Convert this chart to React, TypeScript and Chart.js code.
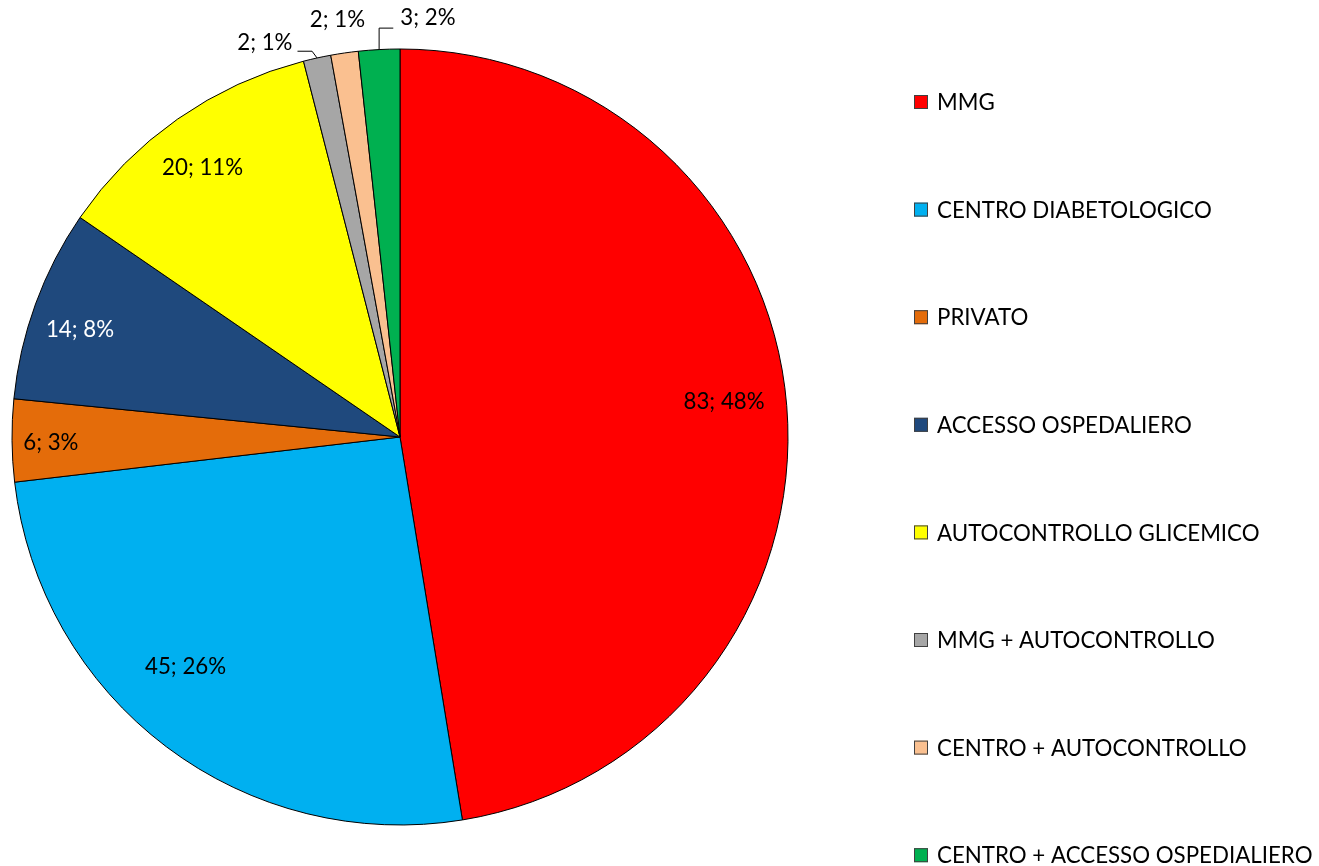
import React, { useEffect, useRef } from "react";
import { Chart, registerables } from "chart.js";

Chart.register(...registerables);

const categories = [
  "MMG",
  "CENTRO DIABETOLOGICO",
  "PRIVATO",
  "ACCESSO OSPEDALIERO",
  "AUTOCONTROLLO GLICEMICO",
  "MMG + AUTOCONTROLLO",
  "CENTRO + AUTOCONTROLLO",
  "CENTRO + ACCESSO OSPEDIALIERO",
];
const values = [83, 45, 6, 14, 20, 2, 2, 3];
const percentLabels = ["48%", "26%", "3%", "8%", "11%", "1%", "1%", "2%"];
const colors = ["#FF0000", "#00B0F0", "#E46C0A", "#1F497D", "#FFFF00", "#A6A6A6", "#FAC090", "#00B050"];
const labelColors = ["#000000", "#000000", "#000000", "#FFFFFF", "#000000", "#000000", "#000000", "#000000"];

// label placement: radius factor and angular shift (degrees) relative to slice mid-angle
const labelPlacement = [
  { r: 0.84, da: -1.5 },
  { r: 0.81, da: 6 },
  { r: 0.9, da: -0.5 },
  { r: 0.87, da: -1.5 },
  { r: 0.86, da: -1.3 },
  { r: 1.073, da: -6.6, leader: "left" },
  { r: 1.087, da: -0.3 },
  { r: 1.082, da: 6.9, leader: "right" },
];

const FONT = "Lato, 'Open Sans', sans-serif";
const FONT_SIZE = 22.3;

const labelsPlugin = {
  id: "sliceLabels",
  afterDatasetsDraw(chart: any) {
    const ctx = chart.ctx;
    const meta = chart.getDatasetMeta(0);
    ctx.save();
    ctx.font = `${FONT_SIZE}px ${FONT}`;
    ctx.textAlign = "center";
    ctx.textBaseline = "middle";
    meta.data.forEach((arc: any, i: number) => {
      const { x, y, startAngle, endAngle, outerRadius } = arc.getProps(
        ["x", "y", "startAngle", "endAngle", "outerRadius"],
        true
      );
      const mid = (startAngle + endAngle) / 2;
      const p = labelPlacement[i];
      const a = mid + (p.da * Math.PI) / 180;
      const lx = x + Math.cos(a) * outerRadius * p.r;
      const ly = y + Math.sin(a) * outerRadius * p.r;
      const text = `${values[i]}; ${percentLabels[i]}`;
      ctx.fillStyle = labelColors[i];
      ctx.fillText(text, lx, ly);
      if ((p as any).leader) {
        const ex = x + Math.cos(mid) * outerRadius;
        const ey = y + Math.sin(mid) * outerRadius;
        const w = ctx.measureText(text).width;
        ctx.strokeStyle = "#000";
        ctx.lineWidth = 1;
        ctx.beginPath();
        if ((p as any).leader === "left") {
          const hy = ly + 8;
          ctx.moveTo(ex, ey);
          ctx.lineTo(ex - 5, hy);
          ctx.lineTo(lx + w / 2 + 5, hy);
        } else {
          const hy = ly + 10;
          ctx.moveTo(ex, ey);
          ctx.lineTo(ex, hy);
          ctx.lineTo(lx - w / 2 - 7, hy);
        }
        ctx.stroke();
      }
    });
    ctx.restore();
  },
};

const legendPlugin = {
  id: "customLegend",
  afterDraw(chart: any) {
    const ctx = chart.ctx;
    ctx.save();
    ctx.font = `${FONT_SIZE}px ${FONT}`;
    ctx.textAlign = "left";
    ctx.textBaseline = "middle";
    const x0 = 914;
    const y0 = 102;
    const step = 107.6;
    categories.forEach((c, i) => {
      const cy = y0 + i * step;
      ctx.fillStyle = colors[i];
      ctx.fillRect(x0, cy - 7, 14, 14);
      ctx.strokeStyle = "#404040";
      ctx.lineWidth = 1;
      ctx.strokeRect(x0 + 0.5, cy - 6.5, 13, 13);
      ctx.fillStyle = "#000";
      ctx.fillText(c, x0 + 23, cy + 1);
    });
    ctx.restore();
  },
};

export default function App() {
  const canvasRef = useRef<HTMLCanvasElement | null>(null);
  useEffect(() => {
    if (!canvasRef.current) return;
    const chart = new Chart(canvasRef.current, {
      type: "pie",
      data: {
        labels: categories,
        datasets: [
          {
            data: values,
            backgroundColor: colors,
            borderColor: "#000000",
            borderWidth: 1,
            hoverOffset: 0,
            offset: 0,
          },
        ],
      },
      options: {
        animation: false,
        responsive: false,
        maintainAspectRatio: false,
        layout: { padding: { left: 11.5, top: 48.5, right: 530.5, bottom: 40.5 } },
        plugins: {
          legend: { display: false },
          tooltip: { enabled: false },
        },
      },
      plugins: [labelsPlugin, legendPlugin],
    });
    return () => chart.destroy();
  }, []);
  return (
    <div style={{ position: "absolute", left: 0, top: 0, width: 1319, height: 866, background: "#fff" }}>
      <canvas ref={canvasRef} width={1319} height={866} style={{ width: 1319, height: 866 }} />
    </div>
  );
}
